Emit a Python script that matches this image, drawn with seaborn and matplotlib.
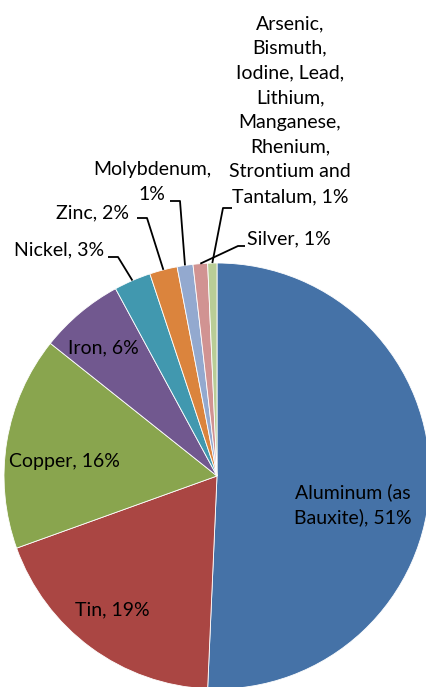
import numpy as np
import matplotlib
matplotlib.use("Agg")
import matplotlib.pyplot as plt
import seaborn as sns

# slices, clockwise from 12 o'clock
names = ["Aluminum (as\nBauxite)", "Tin", "Copper", "Iron", "Nickel", "Zinc",
         "Molybdenum,\n", "Silver",
         "Arsenic,\nBismuth,\nIodine, Lead,\nLithium,\nManganese,\nRhenium,\nStrontium and\nTantalum"]
values = [50.7, 18.8, 16.2, 6.4, 2.8, 2.1, 1.2, 1.1, 0.7]
colors = ["#4572A7", "#AA4643", "#89A54E", "#71588F", "#4198AF", "#DB843D",
          "#93A9CF", "#D19392", "#B9CD96"]

sns.set_theme(style="white")
plt.rcParams["font.family"] = ["Lato", "DejaVu Sans"]

W, H = 426, 687
fig = plt.figure(figsize=(W / 100, H / 100), dpi=100)
ax = fig.add_axes([0, 0, 1, 1])

cx, cy, R = 217, H - 476, 213
wedges, _ = ax.pie(values, colors=colors, startangle=90, counterclock=False,
                   center=(cx, cy), radius=R,
                   wedgeprops=dict(linewidth=0.6, edgecolor="white"))
ax.set_xlim(0, W)
ax.set_ylim(0, H)
ax.set_aspect("equal")
ax.axis("off")

fs = 14

def lab(i):
    sep = "" if names[i].endswith("\n") else ", "
    return f"{names[i]}{sep}{values[i]:.0f}%"

# labels inside the pie (pixel coords from top-left)
inside = {0: (353, 505), 1: (112, 610), 2: (64, 462), 3: (103, 348)}
for i, (x, y) in inside.items():
    ax.text(x, H - y, lab(i), ha="center", va="center", fontsize=fs,
            linespacing=1.5, color="black")

# labels outside with leader lines: text pos, ha, elbow, line end
outside = {
    4: ((104, 250), "right", (118, 257), (108, 257)),
    5: ((129, 213), "right", (147, 218), (137, 218)),
    6: ((152, 182), "center", (180, 201), (170, 201)),
    7: ((247, 239), "left", (238, 246), (245, 246)),
    8: ((290, 110), "center", (223, 208), (232, 208)),
}
for i, ((tx, ty), ha, elbow, end) in outside.items():
    w = wedges[i]
    mid = np.deg2rad((w.theta1 + w.theta2) / 2)
    ax_x, ax_y = cx + R * np.cos(mid), cy + R * np.sin(mid)
    ax.plot([ax_x, elbow[0], end[0]], [ax_y, H - elbow[1], H - end[1]],
            color="black", lw=1.3, solid_capstyle="butt")
    ax.text(tx, H - ty, lab(i), ha=ha, va="center", fontsize=fs,
            linespacing=1.55, multialignment="center", color="black")

fig.savefig("out.png", dpi=100)
